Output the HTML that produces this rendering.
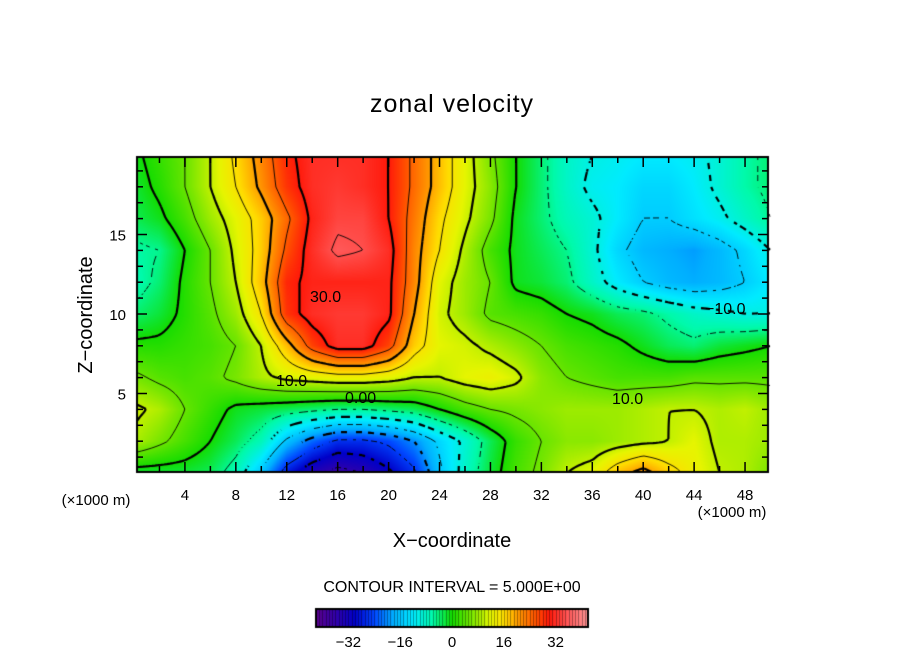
<!DOCTYPE html>
<html><head><meta charset="utf-8"><style>
body{margin:0;background:#fff;width:904px;height:654px;overflow:hidden;position:relative;font-family:"Liberation Sans",sans-serif}
canvas,svg{position:absolute;left:0;top:0}
</style></head><body>
<canvas id="cv" width="904" height="654"></canvas>
<svg id="sv" width="904" height="654"></svg>
<script>
// grid x = 0,2,...,50 ; z rows listed from z=0 up to z=20 (step 2)
const xCoords=[0,2,4,6,8,10,12,14,16,18,20,22,24,26,28,30,32,34,36,38,40,42,44,46,48,50];
const zCoords=[0,2,4,6,8,10,12,14,16,18,20];
const row0 =[-2,-2,-2,-3,-7,-16,-28,-34,-37,-35,-31,-26,-16,-8,-2,3,6,10,12,18,22,17,13,10,9,6];
const row2 =[9,6,3,0,-3,-7,-16,-22,-26,-26,-24,-20,-14,-9,-3,2,5,7,7,8,9,10,12,9,9,8];
const row4 =[11,9,5,2,-1,-2,-3,-4,-5,-5,-4,-3,0,3,5,6,7,8,8,8,9,10,10,9,10,8];
const row6 =[6,4,3,4,6,9,11,12,13,13,12,10,10,12,13,11,7,5,4,3,3,3,4,4,4,4];
const row8 =[1,1,2,3,5,10,18,27,32,32,27,17,12,11,9,7,5,3,2,1,-1,-3,-4,-2,-1,0];
const row10=[-4,-2,1,4,8,15,28,32,33,33,31,20,11,8,4,3,2,0,-1,-3,-4,-6,-8,-9,-10,-10];
const row12=[-7,-4,1,5,10,18,29,31,31,31,31,22,12,8,5,-1,-2,-4,-8,-12,-15,-17,-18,-17,-15,-12];
const row14=[-6,-5,0,5,11,17,26,32,36,35,32,22,15,9,3,-1,-3,-5,-9,-14,-17,-18,-19,-17,-14,-10];
const row16=[-3,-1,3,8,12,17,24,31,34,34,30,23,16,11,6,-1,-4,-7,-9,-12,-15,-15,-13,-11,-8,-5];
const row18=[-2,1,5,10,15,21,28,32,33,32,30,24,18,12,7,0,-4,-8,-11,-12,-14,-14,-12,-9,-6,-4];
const row20=[-1,2,5,10,16,22,29,32,32,32,30,24,18,12,6,0,-4,-8,-10,-11,-12,-12,-11,-9,-6,-4];
const rows=[row0,row2,row4,row6,row8,row10,row12,row14,row16,row18,row20];
const cbTicks=[-32,-16,0,16,32];
const xTicks=[4,8,12,16,20,24,28,32,36,40,44,48];
const zTicks=[5,10,15];

const PX0=137,PX1=768,PY0=157,PY1=472;
const xs=x=>134+12.73*x, zs=z=>473-15.9*z;
const ixs=p=>(p-134)/12.73, izs=p=>(473-p)/15.9;
function val(x,z){
  x=Math.max(0,Math.min(50,x));z=Math.max(0,Math.min(20,z));
  const fi=x/2,fj=z/2;let i=Math.min(Math.floor(fi),xCoords.length-2),j=Math.min(Math.floor(fj),zCoords.length-2);
  const tx=fi-i,tz=fj-j;
  const a=rows[j][i],b=rows[j][i+1],c=rows[j+1][i],d=rows[j+1][i+1];
  return (a*(1-tx)+b*tx)*(1-tz)+(c*(1-tx)+d*tx)*tz;
}
const stops=[[-42,90,0,140],[-36,50,0,170],[-30,0,0,200],[-24,0,70,255],[-18,0,175,255],[-12,0,235,255],[-6,0,250,170],[0,20,220,0],[6,120,230,0],[12,230,245,0],[16,255,220,0],[20,255,160,0],[26,255,80,0],[30,255,25,10],[36,255,90,90],[42,255,150,150]];
function col(v){
  if(v<=stops[0][0])return stops[0].slice(1);
  for(let k=1;k<stops.length;k++){if(v<=stops[k][0]){const s=stops[k-1],e=stops[k],t=(v-s[0])/(e[0]-s[0]);return [0,1,2].map(q=>Math.round(s[q+1]+(e[q+1]-s[q+1])*t));}}
  return stops[stops.length-1].slice(1);
}
const cv=document.getElementById('cv'),ctx=cv.getContext('2d');
const img=ctx.createImageData(PX1-PX0,PY1-PY0);
for(let py=PY0;py<PY1;py++)for(let px=PX0;px<PX1;px++){
  const c=col(val(ixs(px+0.5),izs(py+0.5)));const o=((py-PY0)*(PX1-PX0)+(px-PX0))*4;
  img.data[o]=c[0];img.data[o+1]=c[1];img.data[o+2]=c[2];img.data[o+3]=255;}
ctx.putImageData(img,PX0,PY0);
// contours (marching squares)
const S=3;ctx.strokeStyle='#000';
for(let L=-35;L<=35;L+=5){
  const thick=(L%10===0),dashed=L<0;
  ctx.lineWidth=thick?2.2:0.9;ctx.beginPath();
  for(let py=PY0;py<PY1;py+=S)for(let px=PX0;px<PX1;px+=S){
    const p=[[px,py],[px+S,py],[px+S,py+S],[px,py+S]];
    const v=p.map(q=>val(ixs(q[0]),izs(q[1]))-L);
    const pts=[];
    for(let e=0;e<4;e++){const a=v[e],b=v[(e+1)%4];if((a<0)!==(b<0)){const t=a/(a-b);const A=p[e],B=p[(e+1)%4];pts.push([A[0]+(B[0]-A[0])*t,A[1]+(B[1]-A[1])*t]);}}
    if(pts.length>=2){
      if(dashed&&Math.floor((px+py)/(thick?7:5))%2)continue;
      ctx.moveTo(pts[0][0],pts[0][1]);ctx.lineTo(pts[1][0],pts[1][1]);
      if(pts.length===4){ctx.moveTo(pts[2][0],pts[2][1]);ctx.lineTo(pts[3][0],pts[3][1]);}
    }
  }
  ctx.stroke();
}
// colorbar
const CB0=316,CB1=588,cbv=p=>-42+(p-CB0)/(CB1-CB0)*84,cbx=v=>CB0+(v+42)/84*(CB1-CB0);
for(let px=CB0;px<CB1;px++){const c=col(cbv(px+0.5));ctx.fillStyle=`rgb(${c})`;ctx.fillRect(px,609,1,18);}
ctx.fillStyle='rgba(0,0,0,0.35)';
for(let v=-42;v<42;v+=1){ctx.fillRect(Math.round(cbx(v)),609,1,18);}
ctx.lineWidth=2;ctx.strokeStyle='#000';ctx.strokeRect(CB0,609,CB1-CB0,18);
ctx.strokeRect(PX0,PY0,PX1-PX0,PY1-PY0);

const sv=document.getElementById('sv'),NS='http://www.w3.org/2000/svg';
function mk(tag,attrs,txt){const e=document.createElementNS(NS,tag);for(const k in attrs)e.setAttribute(k,attrs[k]);if(txt!==undefined)e.textContent=txt;sv.appendChild(e);return e;}
// ticks
for(let x=0;x<=50;x+=2){const X=xs(x);if(X<PX0||X>PX1)continue;const len=(x%4===0)?10:6;
  let t=mk('line',{x1:X,x2:X,y1:PY1,y2:PY1-len,stroke:'#000','stroke-width':1.5});
  
  
  t=mk('line',{x1:X,x2:X,y1:PY0,y2:PY0+len,stroke:'#000','stroke-width':1.5});
  
  }
for(let z=1;z<=19;z++){const Y=zs(z);const len=(z%5===0)?10:6;
  let t=mk('line',{x1:PX0,x2:PX0+len,y1:Y,y2:Y,stroke:'#000','stroke-width':1.5});
  
  
  t=mk('line',{x1:PX1,x2:PX1-len,y1:Y,y2:Y,stroke:'#000','stroke-width':1.5});
  
  }
xTicks.forEach(v=>{const t=mk('text',{x:xs(v),y:500,'text-anchor':'middle','font-size':15},String(v));
  
  });
zTicks.forEach(v=>{const t=mk('text',{x:126,y:zs(v)+6,'text-anchor':'end','font-size':15},String(v));
  
  });
cbTicks.forEach(v=>{const t=mk('text',{x:cbx(v),y:647,'text-anchor':'middle','font-size':15},v<0?'\u2212'+(-v):String(v));
  
  });
</script>
<svg width="904" height="654" style="position:absolute;left:0;top:0" font-family="Liberation Sans, sans-serif">
<text x="452" y="112" text-anchor="middle" font-size="25" letter-spacing="1">zonal velocity</text>
<text transform="translate(92,315) rotate(-90)" text-anchor="middle" font-size="20">Z−coordinate</text>
<text x="452" y="547" text-anchor="middle" font-size="20">X−coordinate</text>
<text x="96" y="505" text-anchor="middle" font-size="15">(×1000 m)</text>
<text x="732" y="517" text-anchor="middle" font-size="15">(×1000 m)</text>
<text x="452" y="592" text-anchor="middle" font-size="16">CONTOUR INTERVAL = 5.000E+00</text>
<g font-size="16">
<text x="310" y="302">30.0</text>
<text x="276" y="386">10.0</text>
<text x="345" y="403">0.00</text>
<text x="705" y="314">−10.0</text>
<text x="612" y="404">10.0</text>
</g>
</svg>
</body></html>
